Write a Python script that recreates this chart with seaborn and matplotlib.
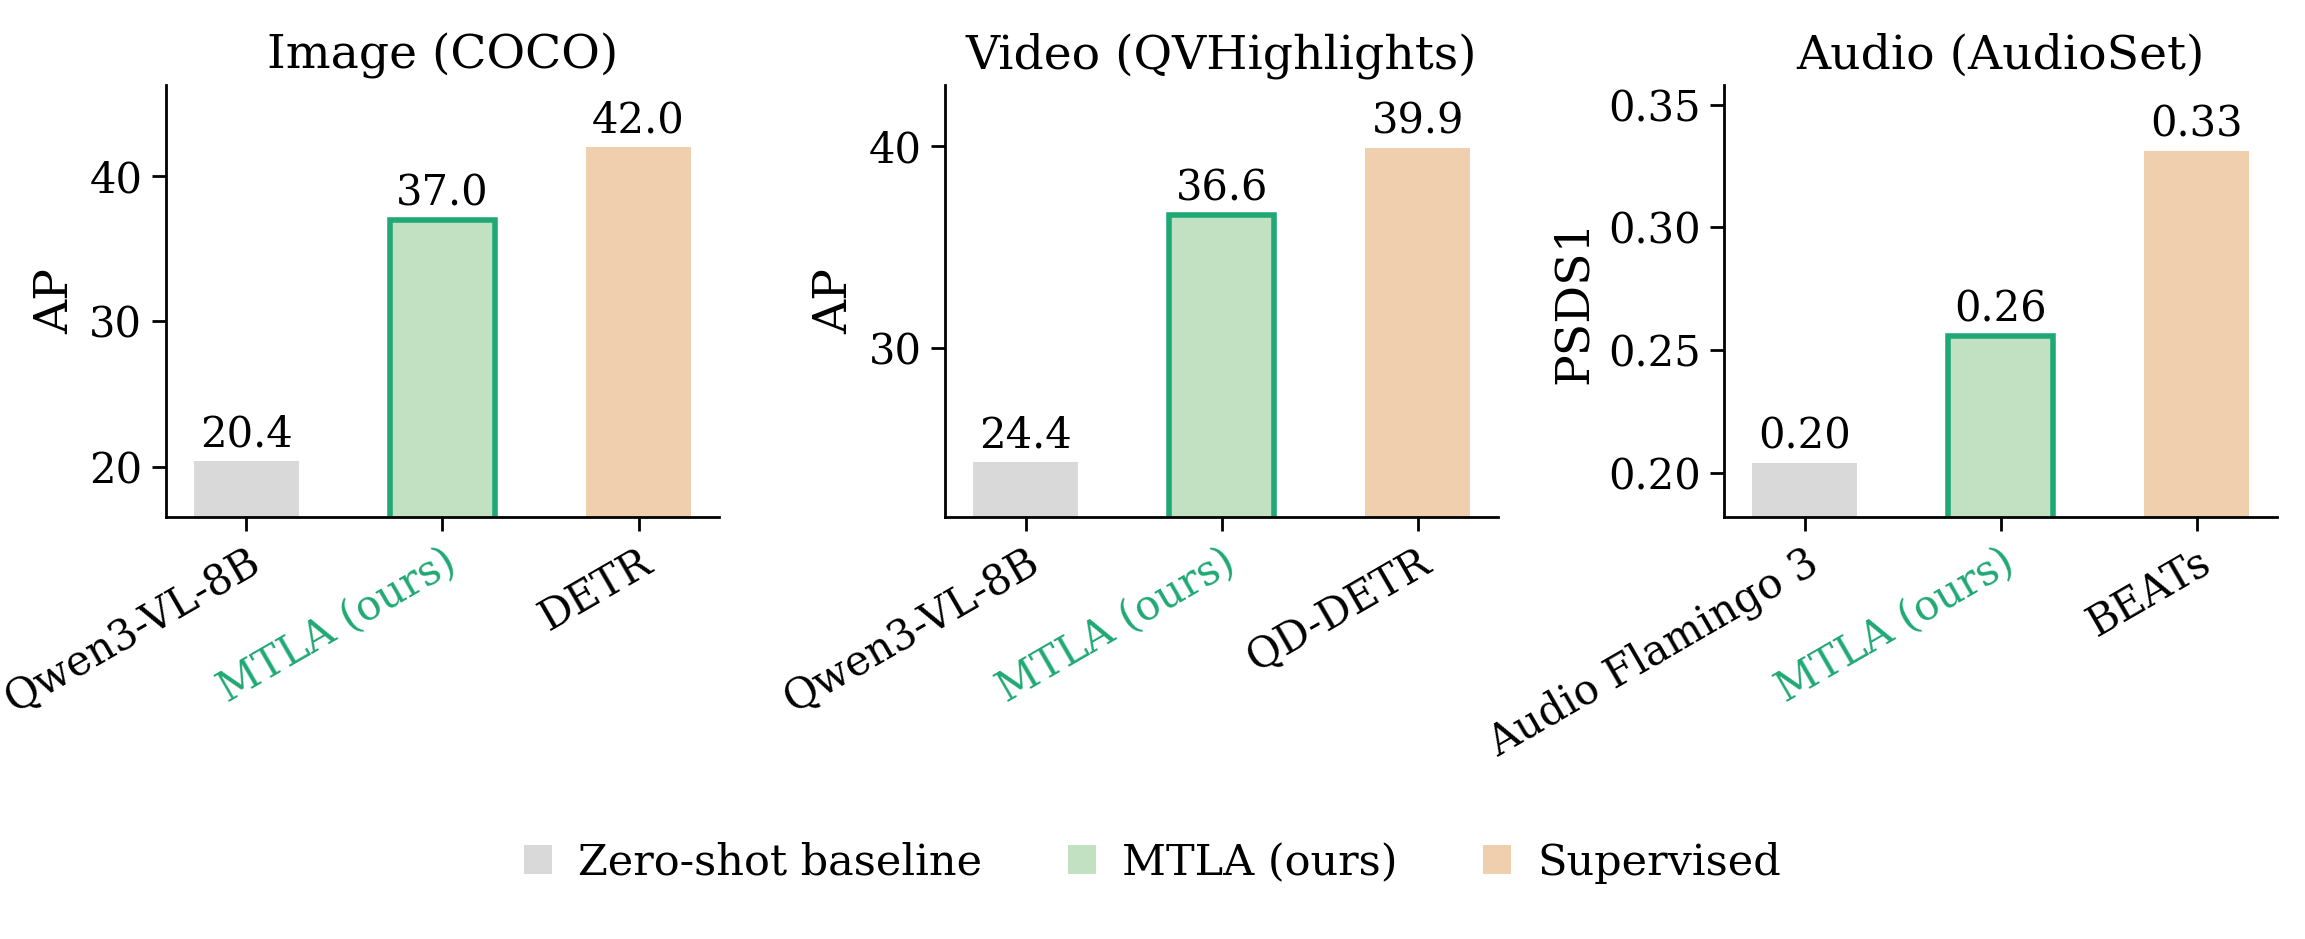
import pandas as pd
import matplotlib
matplotlib.use("Agg")
import matplotlib.pyplot as plt
from matplotlib.patches import Patch
import seaborn as sns

# --- data ---
GROUPS = ["Zero-shot baseline", "MTLA (ours)", "Supervised"]
COLORS = ["#d9d9d9", "#c2e0c2", "#f0cfae"]
EDGE_GREEN = "#1fa874"

TITLES = ["Image (COCO)", "Video (QVHighlights)", "Audio (AudioSet)"]
YLABELS = ["AP", "AP", "PSDS1"]

image_models = ["Qwen3-VL-8B", "MTLA (ours)", "DETR"]
image_scores = [20.4, 37.0, 42.0]

video_models = ["Qwen3-VL-8B", "MTLA (ours)", "QD-DETR"]
video_scores = [24.4, 36.6, 39.9]

audio_models = ["Audio Flamingo 3", "MTLA (ours)", "BEATs"]
audio_scores = [0.204, 0.256, 0.331]

YLIMS = [(16.5, 46.3), (21.65, 43.0), (0.182, 0.358)]
YTICKS = [[20, 30, 40], [30, 40], [0.20, 0.25, 0.30, 0.35]]
FMTS = ["%.1f", "%.1f", "%.2f"]

sns.set_style("ticks")
plt.rcParams["font.family"] = ["DejaVu Serif"]
for k in ["text.color", "axes.labelcolor", "xtick.color", "ytick.color", "axes.edgecolor"]:
    plt.rcParams[k] = "black"
plt.rcParams["axes.linewidth"] = 1.0
plt.rcParams["xtick.major.width"] = 1.0
plt.rcParams["ytick.major.width"] = 1.0
plt.rcParams["xtick.major.size"] = 5
plt.rcParams["ytick.major.size"] = 5

fig, axes = plt.subplots(1, 3, figsize=(11.525, 4.695), dpi=200)
fig.subplots_adjust(left=0.072, right=0.988, bottom=0.449, top=0.9095, wspace=0.409)

panels = [
    (image_models, image_scores),
    (video_models, video_scores),
    (audio_models, audio_scores),
]

for i, (ax, (models, scores)) in enumerate(zip(axes, panels)):
    df = pd.DataFrame({"model": models, "score": scores, "group": GROUPS})
    sns.barplot(data=df, x="model", y="score", hue="group", hue_order=GROUPS,
                palette=COLORS, width=0.535, dodge=False, legend=False,
                saturation=1, ax=ax)

    # highlight our method
    for j, c in enumerate(ax.containers):
        for p in c:
            if j == 1:
                p.set_edgecolor(EDGE_GREEN)
                p.set_linewidth(2.0)
            else:
                p.set_linewidth(0)
        ax.bar_label(c, fmt=FMTS[i], padding=2, fontsize=15)

    ax.set_xlim(-0.41, 2.41)
    ax.set_ylim(*YLIMS[i])
    ax.set_yticks(YTICKS[i])
    if i == 2:
        ax.set_yticklabels([f"{t:.2f}" for t in YTICKS[i]])
    ax.tick_params(axis="y", labelsize=15)
    ax.set_xlabel("")
    ax.set_ylabel(YLABELS[i], fontsize=17)
    ax.set_title(TITLES[i], fontsize=17)

    ax.set_xticks(range(len(models)))
    ax.set_xticklabels(models, rotation=30, ha="right", rotation_mode="anchor", fontsize=15)
    ax.get_xticklabels()[1].set_color(EDGE_GREEN)
    sns.despine(ax=ax)

handles = [Patch(facecolor=c, edgecolor="none", label=g) for g, c in zip(GROUPS, COLORS)]
fig.legend(handles=handles, loc="center", bbox_to_anchor=(0.5, 0.081), ncol=3,
           frameon=False, fontsize=15.5, handlelength=0.65, handleheight=0.65,
           handletextpad=0.6, columnspacing=2.0)

fig.savefig("out.png", dpi=200)
